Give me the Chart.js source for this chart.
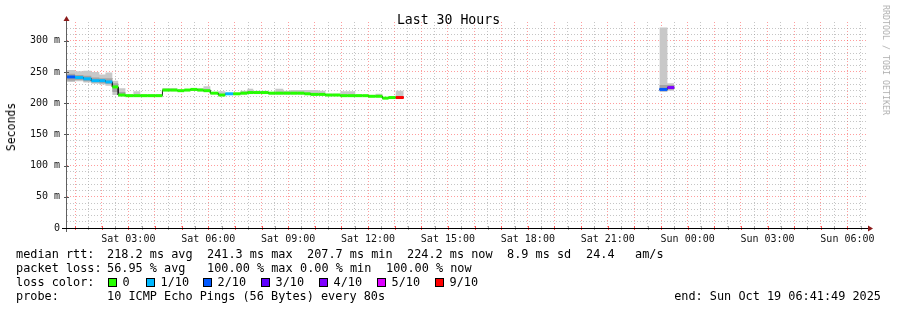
<!DOCTYPE html>
<html>
<head>
<meta charset="utf-8">
<title>Last 30 Hours</title>
<script src="https://cdn.jsdelivr.net/npm/chart.js@4.4.1/dist/chart.umd.min.js"></script>
<style>
  html, body { margin: 0; padding: 0; background: #fff; }
  #wrap { position: relative; width: 897px; height: 310px; overflow: hidden; font-family: 'DejaVu Sans Mono', monospace; color: #000; }
  #chart { position: absolute; left: 0; top: 0; }
  .t { position: absolute; white-space: pre; font-size: 11.85px; line-height: 14px; }
  .box { position: absolute; width: 9px; height: 9px; box-sizing: border-box; border: 1px solid #000; }
  #title { position: absolute; left: 0; width: 897px; top: 12px; text-align: center; font-size: 13.2px; line-height: 16px; }
  #ylabel { position: absolute; left: 11px; top: 127px; font-size: 11.5px; transform: translate(-50%, -50%) rotate(-90deg); white-space: pre; }
  #credit { position: absolute; left: 886px; top: 60px; font-size: 8.3px; color: #b0b0b0; transform: translate(-50%, -50%) rotate(90deg); white-space: pre; }
</style>
</head>
<body>
<div id="wrap">
  <canvas id="chart" width="897" height="310"></canvas>
  <div id="title">Last 30 Hours</div>
  <div id="ylabel">Seconds</div>
  <div id="credit">RRDTOOL / TOBI OETIKER</div>
  <div id="legend"></div>
</div>
<script>
// time in hours since Sat 00:00, values in ms
const X_MIN = 0.697;   // Sat 00:41:49
const X_MAX = 30.697;  // Sun 06:41:49

const stepStart = [0.70, 1.00, 1.31, 1.61, 1.91, 2.14, 2.40, 2.62, 2.89, 3.19, 3.45, 3.71, 4.01,
  4.28, 4.58, 4.84, 5.10, 5.33, 5.59, 5.82, 6.08, 6.38, 6.64, 6.94, 7.21, 7.47, 7.69, 7.96,
  8.26, 8.52, 8.82, 9.08, 9.35, 9.61, 9.84, 10.14, 10.40, 10.66, 10.96, 11.22, 11.52, 11.79,
  12.01, 12.28, 12.54, 12.77, 13.04, 13.34, 22.94, 23.24, 23.50];
const medianMs = [242, 241, 239, 236, 236, 234, 226, 213, 212, 212, 212, 212, 212,
  221, 221, 220, 221, 222, 221, 220, 216, 213, 215, 215, 216, 217, 217, 217,
  216, 216, 216, 216, 216, 215, 214, 214, 213, 213, 212, 212, 212, 212,
  211, 211, 208, 209, 209, null, 222, 225, null];
const lossTenths = [2, 1, 1, 1, 1, 1, 0, 0, 0, 0, 0, 0, 0,
  0, 0, 0, 0, 0, 0, 0, 0, 0, 1, 0, 0, 0, 0, 0,
  0, 0, 0, 0, 0, 0, 0, 0, 0, 0, 0, 0, 0, 0,
  0, 0, 0, 0, 9, null, 2, 4, null];
const smokeLowMs = [234, 235, 233, 231, 230, 228, 213, 211, 211, 211, 211, 211, 211,
  219, 219, 219, 219, 220, 219, 218, 215, 212, 213, 213, 214, 215, 215, 215,
  214, 214, 214, 214, 214, 214, 213, 213, 212, 212, 211, 211, 211, 211,
  210, 210, 207, 208, 208, null, 218, 220, null];
const smokeHighMs = [253, 251, 252, 250, 246, 249, 236, 224, 214, 219, 214, 214, 214,
  224, 224, 221, 222, 223, 224, 227, 218, 219, 216, 216, 220, 223, 220, 220,
  216, 223, 220, 221, 221, 221, 221, 220, 215, 215, 219, 219, 214, 213,
  213, 215, 210, 210, 220, null, 321, 232, null];
// darker inner part of the smoke
const innerLowMs = [236, 237, 235, 233, 232, 231, 218, 212, 212, 212, 212, 212, 212,
  221, 221, 220, 221, 222, 221, 220, 216, 213, 215, 215, 216, 217, 217, 217,
  216, 216, 216, 216, 216, 215, 214, 214, 213, 213, 212, 212, 212, 212,
  211, 211, 208, 209, 209, null, 221, 222, null];
const innerHighMs = [247, 245, 244, 241, 240, 240, 232, 218, 212, 212, 212, 212, 212,
  221, 221, 220, 221, 222, 221, 220, 216, 213, 215, 215, 216, 217, 217, 217,
  216, 216, 216, 216, 216, 215, 214, 214, 213, 213, 212, 212, 212, 212,
  211, 211, 208, 209, 209, null, 229, 229, null];

const lossKeys = [0, 1, 2, 3, 4, 5, 9];
const lossLabels = ['0', '1/10', '2/10', '3/10', '4/10', '5/10', '9/10'];
const lossColors = ['#26ff00', '#00b8ff', '#0059ff', '#5e00ff', '#7e00ff', '#dd00ff', '#ff0000'];

const yTickValues = [0, 50, 100, 150, 200, 250, 300];
const yTickLabels = ['0', '50 m', '100 m', '150 m', '200 m', '250 m', '300 m'];
const xTickHours = [3, 6, 9, 12, 15, 18, 21, 24, 27, 30];
const xTickLabels = ['Sat 03:00', 'Sat 06:00', 'Sat 09:00', 'Sat 12:00', 'Sat 15:00', 'Sat 18:00',
  'Sat 21:00', 'Sun 00:00', 'Sun 03:00', 'Sun 06:00'];

const lossColor = (k) => lossColors[lossKeys.indexOf(k)];

function buildSteps(values, breakEach) {
  const pts = [];
  for (let i = 0; i < stepStart.length - 1; i++) {
    const v = values[i];
    if (v === null) { pts.push({ x: stepStart[i], y: null }); continue; }
    pts.push({ x: stepStart[i], y: v, step: i });
    pts.push({ x: stepStart[i + 1], y: v, step: i });
    if (breakEach) pts.push({ x: stepStart[i + 1], y: null });
  }
  return pts;
}

const coloredPts = buildSteps(medianMs, true);

const RED_GRID = 'rgba(255, 60, 60, 0.5)';
const GRAY_GRID = 'rgba(140, 140, 140, 0.5)';

const axesPlugin = {
  id: 'rrdAxes',
  afterDraw(chart) {
    const { ctx, chartArea: a, scales } = chart;
    ctx.save();
    // hour ticks on the x axis
    scales.x.ticks.forEach((t) => {
      const px = Math.round(scales.x.getPixelForValue(t.value)) + 0.5;
      ctx.strokeStyle = Number.isInteger(t.value) ? '#ff5050' : '#a0a0a0';
      ctx.beginPath(); ctx.moveTo(px, a.bottom - 2); ctx.lineTo(px, a.bottom + 2); ctx.stroke();
    });
    scales.y.ticks.forEach((t) => {
      if (t.value % 50 !== 0) return;
      const py = Math.round(scales.y.getPixelForValue(t.value)) + 0.5;
      ctx.strokeStyle = '#555';
      ctx.beginPath(); ctx.moveTo(a.left - 3, py); ctx.lineTo(a.left + 2, py); ctx.stroke();
    });
    ctx.lineWidth = 1;
    ctx.strokeStyle = '#606060';
    ctx.beginPath(); ctx.moveTo(a.left - 0.5, a.bottom + 4); ctx.lineTo(a.left - 0.5, a.top - 2); ctx.stroke();
    ctx.strokeStyle = '#000';
    ctx.beginPath(); ctx.moveTo(a.left - 5, a.bottom + 0.5); ctx.lineTo(a.right + 2, a.bottom + 0.5); ctx.stroke();
    ctx.fillStyle = '#8b1a1a';
    ctx.beginPath();
    ctx.moveTo(a.left - 0.5, a.top - 6); ctx.lineTo(a.left - 3.5, a.top - 1); ctx.lineTo(a.left + 2.5, a.top - 1);
    ctx.closePath(); ctx.fill();
    ctx.beginPath();
    ctx.moveTo(a.right + 7, a.bottom + 0.5); ctx.lineTo(a.right + 2, a.bottom - 2.5); ctx.lineTo(a.right + 2, a.bottom + 3.5);
    ctx.closePath(); ctx.fill();
    ctx.restore();
  }
};

const hidden = { borderColor: 'transparent', borderWidth: 0, pointRadius: 0 };

new Chart(document.getElementById('chart'), {
  type: 'line',
  data: {
    datasets: [
      {
        data: coloredPts,
        borderWidth: 3,
        pointRadius: 0,
        spanGaps: false,
        fill: false,
        segment: {
          borderColor: (c) => lossColor(lossTenths[coloredPts[c.p0DataIndex].step]),
        },
      },
      { data: buildSteps(medianMs, false), borderColor: '#202020', borderWidth: 1, pointRadius: 0, fill: false },
      { data: buildSteps(innerLowMs, false), ...hidden, fill: false },
      { data: buildSteps(innerHighMs, false), ...hidden, fill: 2, backgroundColor: '#a4a4a4' },
      { data: buildSteps(smokeLowMs, false), ...hidden, fill: false },
      { data: buildSteps(smokeHighMs, false), ...hidden, fill: 4, backgroundColor: '#c8c8c8' },
    ],
  },
  options: {
    responsive: false,
    animation: false,
    events: [],
    layout: { padding: { top: 22, right: 31, left: 0, bottom: 0 } },
    plugins: { legend: { display: false }, tooltip: { enabled: false } },
    scales: {
      x: {
        type: 'linear',
        min: X_MIN,
        max: X_MAX,
        afterBuildTicks: (s) => {
          const ticks = [];
          for (let h = 1; h <= 30.5; h += 0.5) ticks.push({ value: h });
          s.ticks = ticks;
        },
        afterFit: (s) => { s.height = 82; },
        grid: {
          drawTicks: false,
          color: (c) => (Number.isInteger(c.tick.value) ? RED_GRID : GRAY_GRID),
        },
        border: { display: false, dash: [1, 2] },
        ticks: {
          autoSkip: false,
          maxRotation: 0,
          padding: 5,
          color: '#111',
          font: { family: 'DejaVu Sans Mono', size: 10 },
          callback: (v) => {
            const i = xTickHours.indexOf(v);
            return i >= 0 ? xTickLabels[i] : '';
          },
        },
      },
      y: {
        min: 0,
        max: 330,
        afterBuildTicks: (s) => {
          const ticks = [];
          for (let v = 0; v <= 320; v += 10) ticks.push({ value: v });
          s.ticks = ticks;
        },
        afterFit: (s) => { s.width = 67; },
        grid: {
          drawTicks: false,
          color: (c) => (c.tick.value === 0 ? 'transparent' : c.tick.value % 50 === 0 ? RED_GRID : GRAY_GRID),
        },
        border: { display: false, dash: [1, 2] },
        ticks: {
          autoSkip: false,
          padding: 7,
          color: '#111',
          font: { family: 'DejaVu Sans Mono', size: 10 },
          callback: (v) => {
            const i = yTickValues.indexOf(v);
            return i >= 0 ? yTickLabels[i] : '';
          },
        },
      },
    },
  },
  plugins: [axesPlugin],
});

// text legend below the chart
const legendEl = document.getElementById('legend');
function text(x, yc, s, right) {
  const d = document.createElement('div');
  d.className = 't';
  d.textContent = s;
  d.style.top = (yc - 7) + 'px';
  if (right) d.style.right = (897 - x) + 'px'; else d.style.left = x + 'px';
  legendEl.appendChild(d);
}
text(16, 254, 'median rtt:');
text(107, 254, '218.2 ms avg');
text(207, 254, '241.3 ms max');
text(307, 254, '207.7 ms min');
text(407, 254, '224.2 ms now');
text(507, 254, '8.9 ms sd');
text(586, 254, '24.4');
text(635, 254, 'am/s');
text(16, 268, 'packet loss:');
text(107, 268, '56.95 % avg');
text(207, 268, '100.00 % max');
text(300, 268, '0.00 % min');
text(386, 268, '100.00 % now');
text(16, 282, 'loss color:');
const boxX = [108, 146, 203, 261, 319, 377, 435];
lossLabels.forEach((lab, i) => {
  const b = document.createElement('div');
  b.className = 'box';
  b.style.left = boxX[i] + 'px';
  b.style.top = '278px';
  b.style.background = lossColors[i];
  legendEl.appendChild(b);
  text(boxX[i] + 14.5, 282, lab);
});
text(16, 296, 'probe:');
text(107, 296, '10 ICMP Echo Pings (56 Bytes) every 80s');
text(881, 296, 'end: Sun Oct 19 06:41:49 2025', true);
</script>
</body>
</html>
